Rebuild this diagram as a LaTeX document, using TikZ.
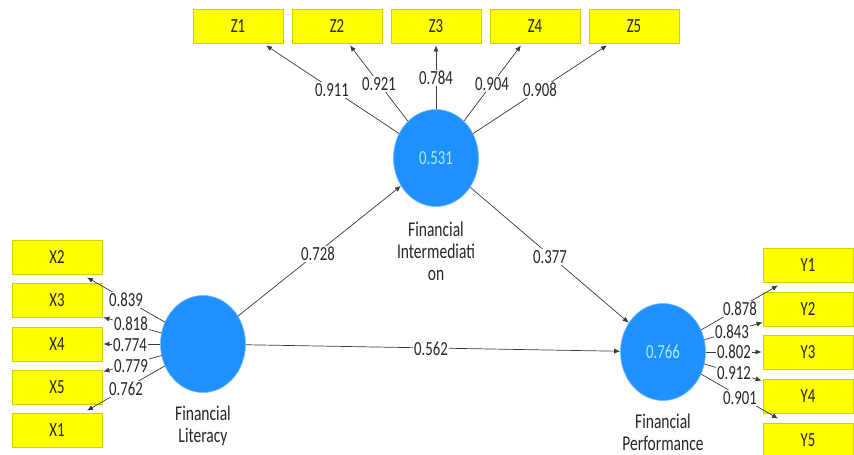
\documentclass[tikz,border=0pt]{standalone}
\usepackage{fontspec}
\setmainfont{Carlito}[FakeStretch=0.74]
\usetikzlibrary{arrows.meta,calc,shapes.geometric}

\definecolor{plsyellow}{HTML}{FFFF00}
\definecolor{boxedge}{HTML}{D2D200}
\definecolor{plsblue}{HTML}{1E90FF}
\definecolor{latedge}{HTML}{6FB6FF}
\definecolor{valtext}{HTML}{A8F0EC}
\definecolor{linegray}{HTML}{3A3A3A}
\definecolor{txtgray}{HTML}{262626}

\begin{document}
\begin{tikzpicture}[x=1pt,y=-1pt,
  ind/.style={draw=boxedge, line width=0.8pt, fill=plsyellow, minimum width=90pt,
    minimum height=34pt, inner sep=0pt, text=txtgray, font=\fontsize{20}{20}\selectfont},
  lat/.style={ellipse, draw=latedge, line width=0.6pt, fill=plsblue, minimum width=85pt,
    minimum height=97pt, inner sep=0pt, text=valtext, font=\fontsize{20}{20}\selectfont},
  latname/.style={align=center, text=txtgray, font=\fontsize{21}{22}\selectfont},
  arr/.style={draw=linegray, line width=0.7pt, -{Latex[length=6pt,width=5pt]}},
  lbl/.style={fill=white, inner sep=1pt, text=txtgray, font=\fontsize{20}{20}\selectfont}]

\useasboundingbox (0,0) rectangle (854,455);

% latent variables
\node[lat] (FI) at (436,158) {0.531};
\node[lat] (FL) at (203,344) {};
\node[lat] (FP) at (663,352) {0.766};

\node[latname] (FIname) at (436,251) {Financial\\Intermediati\\on};
\node[latname] (FLname) at (203,426) {Financial\\Literacy};
\node[latname] (FPname) at (663,432) {Financial\\Performance};

% indicators of Financial Intermediation
\foreach \i/\x in {1/238,2/337,3/436,4/535,5/634}
  \node[ind] (Z\i) at (\x,26) {Z\i};

% indicators of Financial Literacy
\node[ind] (X2) at (57,257) {X2};
\node[ind] (X3) at (57,300) {X3};
\node[ind] (X4) at (57,344) {X4};
\node[ind] (X5) at (57,387) {X5};
\node[ind] (X1) at (57,430) {X1};

% indicators of Financial Performance
\foreach \i/\y in {1/265,2/309,3/352,4/396,5/440}
  \node[ind] (Y\i) at (808,\y) {Y\i};

% outer loadings
\draw[arr] (FI) -- ($(Z1.south)+(28,2)$);
\draw[arr] (FI) -- ($(Z2.south)+(13,2)$);
\draw[arr] (FI) -- ($(Z3.south)+(0,2)$);
\draw[arr] (FI) -- ($(Z4.south)+(-14,2)$);
\draw[arr] (FI) -- ($(Z5.south)+(-27,2)$);

\draw[arr] (FL) -- ($(X2.south)+(30,3)$);
\draw[arr] (FL) -- ($(X3.south east)+(1,0)$);
\draw[arr] (FL) -- ($(X4.east)+(1,0)$);
\draw[arr] (FL) -- ($(X5.north east)+(1,2)$);
\draw[arr] (FL) -- ($(X1.north)+(30,-2)$);

\draw[arr] (FP) -- ($(Y1.south)+(-30,3)$);
\draw[arr] (FP) -- ($(Y2.south west)+(0,-4)$);
\draw[arr] (FP) -- ($(Y3.west)+(-1,0)$);
\draw[arr] (FP) -- ($(Y4.north west)+(-1,2)$);
\draw[arr] (FP) -- ($(Y5.north)+(-30,-4)$);

% path coefficients
\draw[arr] (FL) -- (FI);
\draw[arr] (FI) -- (FP);
\draw[arr] (FL) -- (FP);

% loading values
\node[lbl] (lz1) at (332,90) {0.911};
\node[lbl] (lz2) at (379,84) {0.921};
\node[lbl] (lz3) at (436,78) {0.784};
\node[lbl] (lz4) at (492,84) {0.904};
\node[lbl] (lz5) at (540,90) {0.908};

\node[lbl] (lx2) at (126,300) {0.839};
\node[lbl] (lx3) at (131,324) {0.818};
\node[lbl] (lx4) at (130,345) {0.774};
\node[lbl] (lx5) at (131,366) {0.779};
\node[lbl] (lx1) at (126,389) {0.762};

\node[lbl] (ly1) at (740,309) {0.878};
\node[lbl] (ly2) at (732,332) {0.843};
\node[lbl] (ly3) at (734,352) {0.802};
\node[lbl] (ly4) at (734,373) {0.912};
\node[lbl] (ly5) at (740,398) {0.901};

% path coefficient values
\node[lbl] (p1) at (318,254) {0.728};
\node[lbl] (p2) at (550,257) {0.377};
\node[lbl] (p3) at (431,349) {0.562};

\end{tikzpicture}
\end{document}
